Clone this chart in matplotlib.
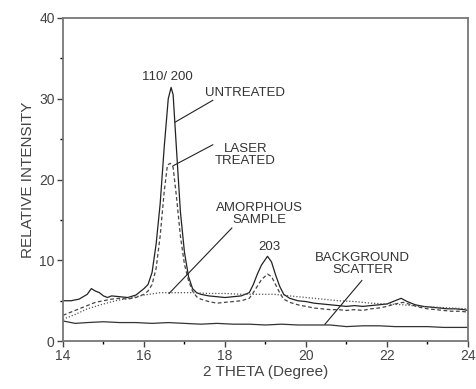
import matplotlib.pyplot as plt

plt.rcParams['font.family'] = ['Liberation Sans', 'DejaVu Sans']

# Untreated sample (solid)
x_untreated = [14.0, 14.2, 14.4, 14.6, 14.7, 14.8, 14.9, 15.0, 15.1, 15.2, 15.4, 15.6, 15.8,
               16.0, 16.1, 16.2, 16.3, 16.4, 16.5, 16.6, 16.67, 16.72, 16.8, 16.9, 17.0,
               17.1, 17.2, 17.3, 17.4, 17.6, 17.8, 18.0, 18.2, 18.4, 18.6, 18.7, 18.8,
               18.9, 19.05, 19.15, 19.25, 19.35, 19.45, 19.6, 19.8, 20.0, 20.2, 20.4,
               20.6, 20.8, 21.0, 21.2, 21.4, 21.6, 21.8, 22.0, 22.2, 22.35, 22.5, 22.7,
               22.9, 23.1, 23.3, 23.5, 23.7, 23.9, 24.0]
y_untreated = [5.0, 5.0, 5.2, 5.8, 6.5, 6.2, 6.0, 5.6, 5.4, 5.6, 5.5, 5.4, 5.7,
               6.5, 7.0, 8.5, 12.0, 17.0, 24.0, 30.0, 31.4, 30.5, 24.0, 16.0, 11.0,
               8.0, 6.5, 6.0, 5.8, 5.6, 5.5, 5.4, 5.5, 5.6, 6.0, 7.0, 8.3,
               9.4, 10.5, 9.8, 8.2, 6.8, 5.8, 5.3, 5.0, 4.9, 4.7, 4.6,
               4.5, 4.4, 4.3, 4.4, 4.3, 4.4, 4.5, 4.6, 5.0, 5.3, 4.9, 4.5,
               4.3, 4.2, 4.1, 4.0, 4.0, 3.9, 3.8]

# Laser treated sample (dashed)
x_laser = [14.0, 14.2, 14.4, 14.6, 14.8, 15.0, 15.2, 15.4, 15.6, 15.8, 16.0, 16.1, 16.2,
           16.3, 16.4, 16.5, 16.58, 16.65, 16.72, 16.8, 16.9, 17.0, 17.1, 17.2, 17.3,
           17.4, 17.6, 17.8, 18.0, 18.2, 18.4, 18.6, 18.7, 18.8, 18.9, 19.05, 19.15,
           19.25, 19.35, 19.45, 19.6, 19.8, 20.0, 20.2, 20.4, 20.6, 20.8, 21.0, 21.2,
           21.4, 21.6, 21.8, 22.0, 22.2, 22.4, 22.6, 22.8, 23.0, 23.2, 23.4, 23.6,
           23.8, 24.0]
y_laser = [3.2, 3.6, 4.0, 4.4, 4.8, 5.0, 5.2, 5.3, 5.2, 5.4, 5.8, 6.2, 7.0,
           9.0, 13.0, 18.5, 21.8, 22.0, 21.5, 18.0, 13.0, 9.5, 7.5, 6.2, 5.5,
           5.2, 4.9, 4.7, 4.8, 4.9, 5.0, 5.3, 6.0, 6.8, 7.6, 8.3, 8.0,
           7.0, 6.0, 5.2, 4.8, 4.5, 4.3, 4.1, 4.0, 3.9, 3.9, 3.8, 3.9,
           3.8, 4.0, 4.1, 4.3, 4.6, 4.8, 4.5, 4.2, 4.0, 3.9, 3.8, 3.7,
           3.7, 3.6]

# Amorphous sample (dotted)
x_amorph = [14.0, 14.3, 14.6, 15.0, 15.3, 15.6, 16.0, 16.4, 16.8, 17.2, 17.6, 18.0, 18.4,
            18.8, 19.2, 19.6, 20.0, 20.4, 20.8, 21.2, 21.6, 22.0, 22.4, 22.8, 23.2,
            23.6, 24.0]
y_amorph = [2.7, 3.3, 4.0, 4.6, 5.0, 5.3, 5.7, 6.0, 6.0, 6.0, 5.9, 5.9, 5.8,
            5.8, 5.8, 5.6, 5.4, 5.2, 5.0, 4.9, 4.7, 4.6, 4.5, 4.3, 4.2,
            4.1, 4.0]

# Background scatter
x_bg = [14.0, 14.3, 14.6, 15.0, 15.4, 15.8, 16.2, 16.6, 17.0, 17.4, 17.8, 18.2, 18.6,
        19.0, 19.4, 19.8, 20.2, 20.6, 21.0, 21.4, 21.8, 22.2, 22.6, 23.0, 23.4,
        23.8, 24.0]
y_bg = [2.5, 2.2, 2.3, 2.4, 2.3, 2.3, 2.2, 2.3, 2.2, 2.1, 2.2, 2.1, 2.1,
        2.0, 2.1, 2.0, 2.0, 2.0, 1.8, 1.9, 1.9, 1.8, 1.8, 1.8, 1.7,
        1.7, 1.7]

fig = plt.figure(figsize=(4.77, 3.89), dpi=100)
ax = fig.add_axes([0.132, 0.123, 0.849, 0.831])

ax.plot(x_untreated, y_untreated, color='#222222', lw=0.9)
ax.plot(x_laser, y_laser, color='#444444', lw=0.9, ls=(0, (3, 2)))
ax.plot(x_amorph, y_amorph, color='#555555', lw=0.9, ls=(0, (1, 1.5)))
ax.plot(x_bg, y_bg, color='#333333', lw=0.9)

ax.set_xlim(14, 24)
ax.set_ylim(0, 40)
ax.set_xticks([14, 16, 18, 20, 22, 24])
ax.set_xticks([15, 17, 19, 21, 23], minor=True)
ax.set_yticks([0, 10, 20, 30, 40])
ax.set_yticks([5, 15, 25, 35], minor=True)
ax.tick_params(labelsize=10, colors='#444444', length=4, width=1, pad=2)
ax.tick_params(which='minor', length=2, width=1)
for s in ax.spines.values():
    s.set_color('#777777')
    s.set_linewidth(1.3)

ax.set_xlabel('2 THETA (Degree)', fontsize=11, color='#444444', labelpad=1)
ax.set_ylabel('RELATIVE INTENSITY', fontsize=11, color='#444444', labelpad=3)

fs = 9.5
tc = '#333333'
ax.text(16.57, 32.7, '110/ 200', fontsize=fs, color=tc, ha='center', va='center')
ax.text(18.5, 30.7, 'UNTREATED', fontsize=fs, color=tc, ha='center', va='center')
ax.plot([16.77, 17.7], [27.1, 29.8], color='#222222', lw=0.8)
ax.text(18.5, 23.0, 'LASER\nTREATED', fontsize=fs, color=tc, ha='center', va='center', linespacing=1.0)
ax.plot([16.72, 17.7], [21.7, 24.3], color='#222222', lw=0.8)
ax.text(18.85, 15.7, 'AMORPHOUS\nSAMPLE', fontsize=fs, color=tc, ha='center', va='center', linespacing=1.0)
ax.plot([16.62, 18.17], [5.9, 14.0], color='#222222', lw=0.8)
ax.text(19.1, 11.6, '203', fontsize=fs, color=tc, ha='center', va='center')
ax.text(21.4, 9.6, 'BACKGROUND\nSCATTER', fontsize=fs, color=tc, ha='center', va='center', linespacing=1.0)
ax.plot([20.47, 21.38], [2.1, 7.5], color='#222222', lw=0.8)

plt.savefig('out.png', dpi=100)
